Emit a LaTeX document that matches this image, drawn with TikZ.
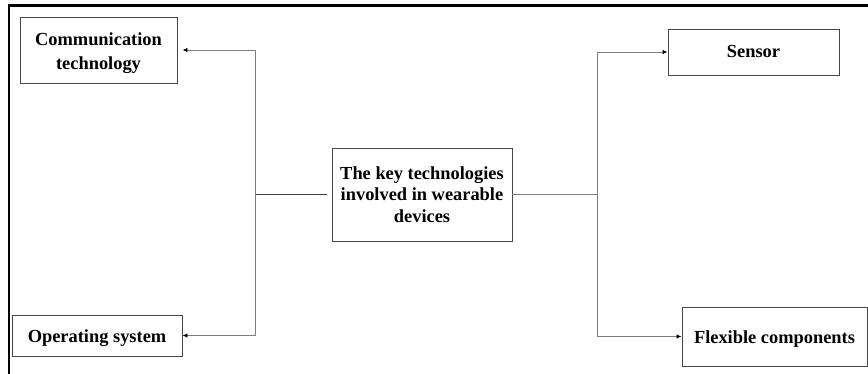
\documentclass[tikz,border=0pt]{standalone}
\usepackage{fontspec}
\setmainfont{Liberation Serif}
\usetikzlibrary{arrows.meta}
\definecolor{boxline}{RGB}{70,70,70}
\definecolor{connline}{RGB}{125,125,125}
\tikzset{
  box/.style={draw=boxline, line width=0.9pt, align=center, inner sep=0pt,
    font=\fontsize{18.4}{21.7}\selectfont\bfseries},
  conn/.style={draw=connline, line width=0.9pt},
  arr/.style={conn, -{Latex[length=5pt,width=4.5pt,color=black]}},
}
\begin{document}
\begin{tikzpicture}[x=1pt,y=-1pt]
\useasboundingbox (0,0) rectangle (868,374);
% frame (top and left edges visible)
\draw[line width=2.5pt] (9,374) -- (9,5.5) -- (870,5.5);
% nodes
\node[box, font=\fontsize{18.4}{24}\selectfont\bfseries, minimum width=157pt, minimum height=66pt] (comm) at (98.5,50) {\rule{0pt}{20pt}Communication\\technology};
\node[box, minimum width=170pt, minimum height=41pt] (os) at (97,335.5) {\rule{0pt}{18.6pt}Operating system};
\node[box, minimum width=171pt, minimum height=46pt] (sens) at (753.5,52) {Sensor};
\node[box, minimum width=185pt, minimum height=59pt] (flex) at (774.5,336.5) {\rule{0pt}{17.6pt}Flexible components};
\node[box, minimum width=180pt, minimum height=93pt] (cen) at (422,194.5) {The key technologies\\involved in wearable\\devices};
% junctions
\coordinate (jl) at (255,194.5);
\coordinate (jr) at (597,194.5);
% connectors
\draw[conn, draw=black!75, shorten <=5pt] (cen.west) -- (jl);
\draw[conn] (cen.east) -- (jr);
\draw[arr, shorten >=5pt] (jl) |- (comm.east);
\draw[arr] (jl) |- (os.east);
\draw[arr] (jr) |- (sens.west);
\draw[arr] (jr) |- (flex.west);
\end{tikzpicture}
\end{document}
